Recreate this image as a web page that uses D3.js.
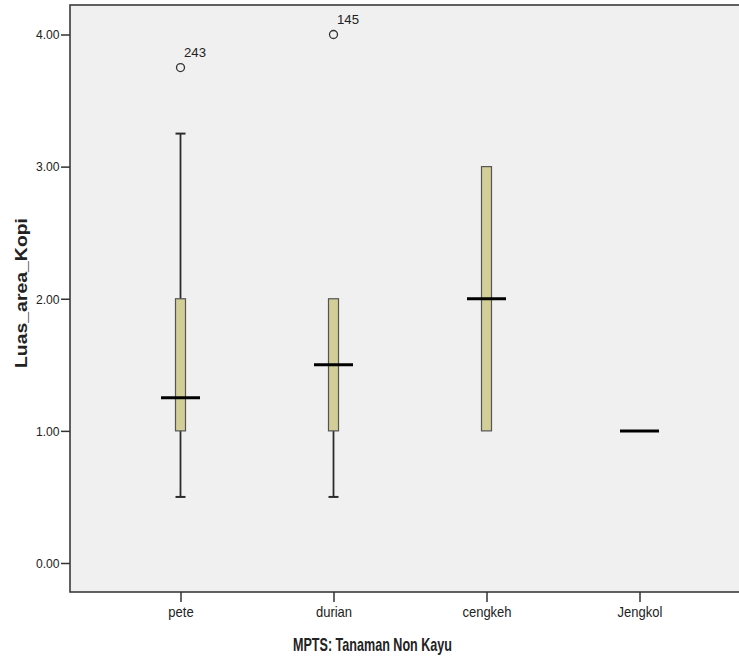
<!DOCTYPE html>
<html>
<head>
<meta charset="utf-8">
<script src="https://cdn.jsdelivr.net/npm/d3@7"></script>
<style>
  body { margin: 0; background: #ffffff; }
  svg { display: block; }
  text { font-family: "Liberation Sans", Arial, sans-serif; fill: #222; }
</style>
</head>
<body>
<svg id="chart" width="739" height="656"></svg>
<script>
// ---- data ----
const categories = ["pete", "durian", "cengkeh", "Jengkol"];
const whiskerLow  = [0.5, 0.5, 1.0, 1.0];
const q1          = [1.0, 1.0, 1.0, 1.0];
const median      = [1.25, 1.5, 2.0, 1.0];
const q3          = [2.0, 2.0, 3.0, 1.0];
const whiskerHigh = [3.25, 2.0, 3.0, 1.0];
const outlierCategory = ["pete", "durian"];
const outlierValue    = [3.75, 4.0];
const outlierLabel    = ["243", "145"];
const yTicks = [0, 1, 2, 3, 4];

// ---- layout ----
const svg = d3.select("#chart");
const frame = {left: 70, top: 5, right: 739, bottom: 592};

const x = d3.scalePoint().domain(categories).range([180.5, 639.5]);
const y = d3.scaleLinear().domain([0, 4]).range([563, 34.5]);

// plot background
svg.append("rect")
  .attr("x", frame.left).attr("y", frame.top)
  .attr("width", frame.right - frame.left + 2).attr("height", frame.bottom - frame.top)
  .attr("fill", "#f0f0f0")
  .attr("stroke", "#3a3a3a").attr("stroke-width", 1.6);

// y axis
const ySx = 0.9;
const yAxis = d3.axisLeft(y).tickValues(yTicks).tickFormat(d3.format(".2f")).tickSize(9).tickPadding(2);
const gy = svg.append("g").attr("transform", `translate(${frame.left},0)`).call(yAxis);
gy.select(".domain").remove();
gy.selectAll(".tick line").attr("stroke", "#333").attr("stroke-width", 1.5);
gy.selectAll(".tick text").attr("font-size", 13.5).attr("fill", "#222")
  .attr("font-family", "'Liberation Sans', Arial, sans-serif")
  .attr("x", -10.5 / ySx)
  .attr("transform", `scale(${ySx},1)`);

// x axis
const xSx = 0.93;
const xAxis = d3.axisBottom(x).tickSize(10).tickPadding(5);
const gx = svg.append("g").attr("transform", `translate(0,${frame.bottom})`).call(xAxis);
gx.select(".domain").remove();
gx.selectAll(".tick line").attr("stroke", "#333").attr("stroke-width", 1.5);
gx.selectAll(".tick text").attr("font-size", 14).attr("fill", "#222")
  .attr("font-family", "'Liberation Sans', Arial, sans-serif")
  .attr("transform", `scale(${xSx},1)`);

// axis titles
svg.append("text")
  .attr("x", 293).attr("y", 650.5)
  .attr("font-size", 19).attr("font-weight", "bold")
  .attr("textLength", 159).attr("lengthAdjust", "spacingAndGlyphs")
  .text("MPTS: Tanaman Non Kayu");

svg.append("text")
  .attr("transform", `translate(27,368) rotate(-90)`)
  .attr("font-size", 17).attr("font-weight", "bold")
  .attr("textLength", 150).attr("lengthAdjust", "spacingAndGlyphs")
  .text("Luas_area_Kopi");

// boxes
const boxW = 10, capW = 10, medW = 39;
const data = categories.map((c, i) => ({
  c, lo: whiskerLow[i], q1: q1[i], med: median[i], q3: q3[i], hi: whiskerHigh[i]
}));
const g = svg.append("g");
data.forEach(d => {
  const cx = x(d.c);
  if (d.hi > d.q3) {
    g.append("line").attr("x1", cx).attr("x2", cx).attr("y1", y(d.q3)).attr("y2", y(d.hi))
      .attr("stroke", "#2b2b2b").attr("stroke-width", 1.8);
    g.append("line").attr("x1", cx - capW/2).attr("x2", cx + capW/2).attr("y1", y(d.hi)).attr("y2", y(d.hi))
      .attr("stroke", "#2b2b2b").attr("stroke-width", 2);
  }
  if (d.lo < d.q1) {
    g.append("line").attr("x1", cx).attr("x2", cx).attr("y1", y(d.q1)).attr("y2", y(d.lo))
      .attr("stroke", "#2b2b2b").attr("stroke-width", 1.8);
    g.append("line").attr("x1", cx - capW/2).attr("x2", cx + capW/2).attr("y1", y(d.lo)).attr("y2", y(d.lo))
      .attr("stroke", "#2b2b2b").attr("stroke-width", 2);
  }
  if (d.q3 > d.q1) {
    g.append("rect")
      .attr("x", cx - boxW/2).attr("y", y(d.q3))
      .attr("width", boxW).attr("height", y(d.q1) - y(d.q3))
      .attr("fill", "#d3ce98").attr("stroke", "#555").attr("stroke-width", 1.2);
  }
  g.append("line").attr("x1", cx - medW/2).attr("x2", cx + medW/2)
    .attr("y1", y(d.med)).attr("y2", y(d.med))
    .attr("stroke", "#000").attr("stroke-width", 3);
});

// outliers
outlierCategory.forEach((c, i) => {
  const cx = x(c), cy = y(outlierValue[i]);
  g.append("circle").attr("cx", cx).attr("cy", cy).attr("r", 4)
    .attr("fill", "none").attr("stroke", "#333").attr("stroke-width", 1.3);
  g.append("text").attr("x", cx + 3.5).attr("y", cy - 11)
    .attr("font-size", 13).attr("fill", "#222")
    .attr("textLength", 22).attr("lengthAdjust", "spacingAndGlyphs")
    .text(outlierLabel[i]);
});
</script>
</body>
</html>
